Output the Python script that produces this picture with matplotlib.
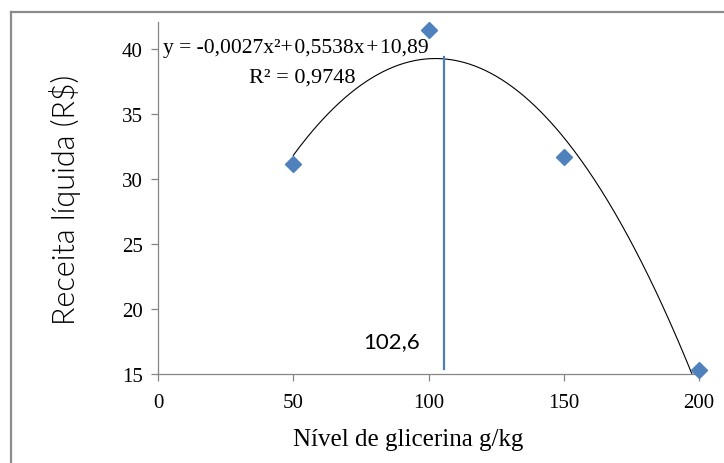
import matplotlib.pyplot as plt
import numpy as np
from matplotlib.lines import Line2D

# glycerin level (g/kg) and net revenue (R$)
nivel = [50, 100, 150, 200]
receita = [31.2, 41.5, 31.7, 15.3]

# quadratic trendline as printed on the chart
coef = [-0.0027, 0.5538, 10.89]
eq_text = "y = -0,0027x²+\u200a0,5538x\u200a+\u200a10,89"
r2_text = "R² = 0,9748"

# marker for the maximum point
vline_x = 105.7
vline_y = [15.4, 39.4]
vline_label = "102,6"

xticks = [0, 50, 100, 150, 200]
yticks = [15, 20, 25, 30, 35, 40]

serif = "Liberation Serif"
sans = "Lato"

fig = plt.figure(figsize=(7.24, 4.64), dpi=100)
ax = fig.add_axes([158/724, 89/464, 541/724, 352/464])

# trendline, clipped to the plot area
xs = np.linspace(nivel[0], nivel[-1], 300)
ax.plot(xs, np.polyval(coef, xs), color="black", lw=0.8, zorder=2)

ax.plot(vline_x * np.ones(2), vline_y, color="#4a7ebb", lw=1.6, zorder=2)

ax.plot(nivel, receita, linestyle="none", marker="D", markersize=8.5,
        color="#4f81bd", markeredgecolor="#4f81bd", clip_on=False, zorder=3)

ax.set_xlim(0, 200)
ax.set_ylim(15, 42.1)
ax.set_xticks(xticks)
ax.set_yticks(yticks)
for s in ["top", "right"]:
    ax.spines[s].set_visible(False)
for s in ["left", "bottom"]:
    ax.spines[s].set_color("#868686")
    ax.spines[s].set_linewidth(0.9)
ax.tick_params(direction="out", length=5, width=0.9, color="#868686",
               labelsize=15, pad=6)
ax.tick_params(axis="x", pad=9)
for lab in ax.get_xticklabels() + ax.get_yticklabels():
    lab.set_fontfamily(serif)

ax.set_xlabel("Nível de glicerina g/kg", fontsize=18, family=serif, va="center")
ax.set_ylabel("Receita líquida (R$)", fontsize=22, family=sans,
              fontweight=300, va="center")
ax.xaxis.set_label_coords(0.462, -0.185)
ax.yaxis.set_label_coords(-0.172, 0.497)

ax.text(50.8, 40.15, eq_text, fontsize=15.5, family=serif, ha="center", va="center")
ax.text(53.2, 37.9, r2_text, fontsize=16, family=serif, ha="center", va="center")
ax.text(86.5, 17.5, vline_label, fontsize=16, family=sans, ha="center", va="center")

# gray frame around the chart area
fig.add_artist(Line2D([11/724, 11/724], [0, 451/464], color="#8c8c8c", lw=1.6))
fig.add_artist(Line2D([11/724, 1], [451/464, 451/464], color="#8c8c8c", lw=1.6))

fig.savefig("out.png", dpi=100)
